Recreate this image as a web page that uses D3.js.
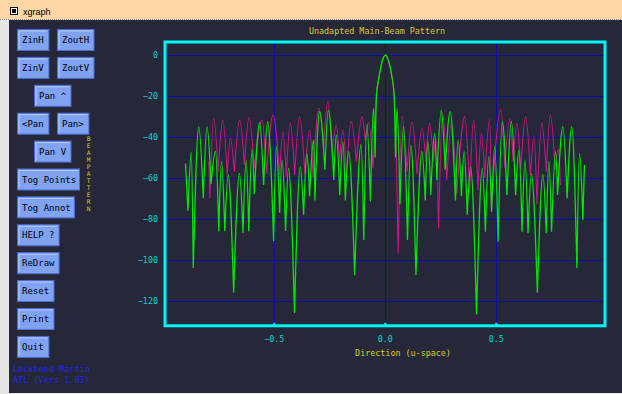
<!DOCTYPE html>
<html>
<head>
<meta charset="utf-8">
<script src="https://cdn.jsdelivr.net/npm/d3@7"></script>
<style>
  html, body { margin: 0; padding: 0; background: #fff; }
  svg { display: block; }
</style>
</head>
<body>
<svg id="chart" width="622" height="394"></svg>
<script>
// ---- data ----
const windowTitle = "xgraph";
const chartTitle = "Unadapted Main-Beam Pattern";
const xLabel = "Direction (u-space)";
const xTicks = [-0.5, 0.0, 0.5];
const yTicks = [0, -20, -40, -60, -80, -100, -120];
const buttonRows = [
  ["ZinH", "ZoutH"], ["ZinV", "ZoutV"], ["Pan ^"], ["<Pan", "Pan>"], ["Pan V"],
  ["Tog Points"], ["Tog Annot"], ["HELP ?"], ["ReDraw"], ["Reset"], ["Print"], ["Quit"]
];
const credits = ["Lockheed-Martin", "ATL (Vers 1.03)"];
const sideLabel = "BEAMPATTERN";

// main beam, shared by both traces  [u, dB]
const mainBeam = [
  [-0.040, -20], [-0.027, -10], [-0.014, -3], [0.001, 0],
  [0.015, -3], [0.029, -10], [0.040, -20]
];

// green trace sidelobes (peaks / nulls)  [u, dB]
const greenLeft = [
  [-0.900, -53], [-0.889, -76], [-0.874, -47.5], [-0.865, -104], [-0.840, -35],
  [-0.820, -70], [-0.803, -35], [-0.785, -63], [-0.765, -47], [-0.750, -86],
  [-0.738, -52], [-0.723, -86], [-0.708, -58.6], [-0.683, -116], [-0.657, -57.8],
  [-0.641, -87], [-0.627, -51.3], [-0.615, -86], [-0.600, -46], [-0.590, -68],
  [-0.566, -33], [-0.548, -63.5], [-0.530, -32.6], [-0.503, -91], [-0.491, -44.8],
  [-0.476, -77], [-0.465, -51.3], [-0.449, -86], [-0.436, -55.4], [-0.409, -126],
  [-0.383, -54.6], [-0.368, -78], [-0.353, -48], [-0.341, -69], [-0.323, -41.5],
  [-0.317, -71], [-0.296, -27.7], [-0.272, -56], [-0.257, -26.9], [-0.232, -61],
  [-0.221, -39], [-0.205, -68.4], [-0.191, -42.3], [-0.180, -71], [-0.165, -47.2],
  [-0.138, -107.5], [-0.109, -43.6], [-0.097, -90.4], [-0.083, -34], [-0.067, -71.6],
  [-0.053, -26], [-0.046, -50]
];
const greenRight = [
  [0.046, -50], [0.053, -26], [0.066, -73], [0.082, -35], [0.100, -90.4],
  [0.115, -44], [0.138, -107.5], [0.165, -47.2], [0.180, -71], [0.192, -42.3],
  [0.205, -68.4], [0.222, -38.3], [0.232, -61], [0.252, -26.9], [0.270, -56],
  [0.292, -27.7], [0.316, -71], [0.328, -41.5], [0.343, -69], [0.355, -47.2],
  [0.369, -78], [0.384, -54.6], [0.411, -126.7], [0.437, -55.4], [0.451, -86.3],
  [0.466, -49.7], [0.479, -76.5], [0.493, -44.8], [0.508, -91.2], [0.527, -32.6],
  [0.548, -68.4], [0.568, -32.6], [0.587, -68.4], [0.602, -46.4], [0.616, -86.3],
  [0.629, -51.3], [0.643, -87], [0.658, -58.1], [0.685, -116], [0.710, -58.3],
  [0.725, -87], [0.737, -52], [0.749, -86.3], [0.767, -47.2], [0.776, -68.4],
  [0.800, -35], [0.819, -70], [0.840, -35], [0.863, -104], [0.875, -48],
  [0.890, -80.6], [0.897, -53.7]
];

// magenta trace sidelobes  [u, dB]
const magentaLeft = [
  [-0.795, -52], [-0.790, -70], [-0.773, -31], [-0.753, -57], [-0.732, -31.8],
  [-0.712, -58.6], [-0.698, -40.7], [-0.680, -57], [-0.656, -31.8], [-0.635, -53.7],
  [-0.614, -30.6], [-0.590, -55.4], [-0.555, -31.8], [-0.535, -58], [-0.506, -29.3],
  [-0.476, -58.6], [-0.461, -37.5], [-0.446, -59.4], [-0.428, -33.4], [-0.408, -58.6],
  [-0.386, -30.1], [-0.362, -58], [-0.341, -36.6], [-0.325, -60], [-0.299, -26],
  [-0.278, -45], [-0.259, -22.8], [-0.240, -48], [-0.221, -34.2], [-0.206, -52],
  [-0.191, -36.6], [-0.175, -58.6], [-0.154, -32.2], [-0.130, -52], [-0.105, -30.1],
  [-0.090, -42], [-0.075, -32.9], [-0.055, -55.4], [-0.047, -35]
];
const magentaRight = [
  [0.047, -35], [0.058, -97], [0.075, -30], [0.098, -57], [0.120, -32.6],
  [0.143, -58], [0.165, -35.8], [0.183, -52], [0.199, -33.4], [0.217, -52],
  [0.228, -40], [0.240, -84.7], [0.258, -28], [0.277, -61], [0.298, -33],
  [0.322, -68], [0.358, -30.1], [0.380, -68], [0.398, -31.8], [0.418, -66],
  [0.433, -38.3], [0.448, -60], [0.470, -31.4], [0.478, -76.5], [0.493, -50],
  [0.520, -26.5], [0.538, -55], [0.560, -31.4], [0.576, -52], [0.593, -33.4],
  [0.610, -56], [0.632, -30.1], [0.654, -58.6], [0.670, -39.9], [0.683, -73],
  [0.705, -33.4], [0.725, -57], [0.744, -29.3], [0.765, -56], [0.780, -46],
  [0.789, -63.5]
];

const magenta = magentaLeft.concat(mainBeam, magentaRight);
const green = greenLeft.concat(mainBeam, greenRight);

// ---- drawing ----
const W = 622, H = 394;
const svg = d3.select('#chart');
const mono = "'DejaVu Sans Mono', 'Liberation Mono', monospace";

// window frame
svg.append('rect').attr('width', W).attr('height', H).attr('fill', '#e6e6e6');
svg.append('rect').attr('x', 9).attr('y', 20).attr('width', W - 9).attr('height', H - 21)
  .attr('fill', '#262839');
svg.append('rect').attr('width', W).attr('height', 19).attr('fill', '#ffd6a4');
svg.append('line').attr('x1', 0).attr('x2', W).attr('y1', 19.5).attr('y2', 19.5)
  .attr('stroke', '#9a9080').attr('stroke-dasharray', '1,1');
svg.append('rect').attr('x', 10.5).attr('y', 7.5).attr('width', 7).attr('height', 7)
  .attr('fill', '#fff').attr('stroke', '#000');
svg.append('rect').attr('x', 12).attr('y', 9).attr('width', 4).attr('height', 4).attr('fill', '#000');
svg.append('text').attr('x', 23).attr('y', 15).attr('font-family', "'Liberation Sans', Arial, sans-serif")
  .attr('font-size', '9px').attr('fill', '#000').text(windowTitle);

// buttons
const btnG = svg.append('g').attr('class', 'buttons');
buttonRows.forEach((row, i) => {
  const y = 29 + i * 27.9;
  const centered = row.length === 1 && row[0].startsWith('Pan');
  let x = centered ? 34 : 17;
  row.forEach((label) => {
    const w = label.length * 5.1 + 11;
    const b = btnG.append('g').attr('transform', `translate(${x},${y})`);
    b.append('rect').attr('x', 0.5).attr('y', 0.5).attr('width', w).attr('height', 21)
      .attr('fill', '#7fa2f2').attr('stroke', '#4d6cd4');
    b.append('path').attr('d', `M2,${20} V2 H${w - 1}`)
      .attr('fill', 'none').attr('stroke', '#b4cbff');
    b.append('text').attr('x', 5).attr('y', 14.2)
      .attr('font-family', mono).attr('font-size', '9px').attr('fill', '#000')
      .text(label);
    x = 57;
  });
});

// credits
credits.forEach((c, i) => {
  svg.append('text').attr('x', 13).attr('y', 371.5 + i * 11.5)
    .attr('font-family', mono).attr('font-size', '8.5px').attr('fill', '#2424e6').text(c);
});

// stacked side label, one vertical text
svg.append('text').attr('x', 88.5).attr('y', 135)
  .attr('font-family', mono).attr('font-size', '6.2px').attr('fill', '#d8cc2a')
  .style('writing-mode', 'vertical-rl').style('text-orientation', 'upright')
  .text(sideLabel);

// plot area
const frame = { left: 165, top: 42, right: 605, bottom: 325.8 };
const x = d3.scaleLinear().domain([-0.5, 0.5]).range([274.3, 496.3]);
const y = d3.scaleLinear().domain([0, -120]).range([55, 300.7]);

svg.append('clipPath').attr('id', 'plotClip').append('rect')
  .attr('x', frame.left + 1.5).attr('y', frame.top + 1.5)
  .attr('width', frame.right - frame.left - 3).attr('height', frame.bottom - frame.top - 3);

const grid = svg.append('g').attr('class', 'grid').attr('stroke', '#0c0caa').attr('stroke-width', 1);
grid.selectAll('line.h').data(yTicks).enter().append('line')
  .attr('x1', frame.left).attr('x2', frame.right)
  .attr('y1', (d) => Math.round(y(d)) + 0.5).attr('y2', (d) => Math.round(y(d)) + 0.5);
grid.selectAll('line.v').data(xTicks).enter().append('line')
  .attr('y1', frame.top).attr('y2', frame.bottom)
  .attr('x1', (d) => Math.round(x(d)) + 0.5).attr('x2', (d) => Math.round(x(d)) + 0.5);

const line = d3.line()
  .x((d) => x(d[0]))
  .y((d) => y(d[1]))
  .curve(d3.curveMonotoneX);

// draw each lobe on its own (null to null) so the nulls come out as sharp cusps
function lobePath(data) {
  const cuts = [0];
  for (let i = 1; i < data.length - 1; i++) {
    if (data[i][1] < data[i - 1][1] && data[i][1] < data[i + 1][1]) cuts.push(i);
  }
  cuts.push(data.length - 1);
  let d = '';
  for (let k = 0; k < cuts.length - 1; k++) {
    d += line(data.slice(cuts[k], cuts[k + 1] + 1));
  }
  return d;
}

const plotG = svg.append('g').attr('clip-path', 'url(#plotClip)');
plotG.append('path').attr('d', lobePath(magenta))
  .attr('fill', 'none').attr('stroke', '#cc1488').attr('stroke-width', 1.1);
plotG.append('path').attr('d', lobePath(green))
  .attr('fill', 'none').attr('stroke', '#00e800').attr('stroke-width', 1.3);

// frame
svg.append('rect').attr('x', frame.left).attr('y', frame.top)
  .attr('width', frame.right - frame.left).attr('height', frame.bottom - frame.top)
  .attr('fill', 'none').attr('stroke', '#00f4f4').attr('stroke-width', 3);

// x tick marks on the frame
svg.selectAll('line.xtick').data(xTicks).enter().append('line')
  .attr('x1', (d) => x(d)).attr('x2', (d) => x(d))
  .attr('y1', frame.bottom - 3).attr('y2', frame.bottom)
  .attr('stroke', '#00f4f4').attr('stroke-width', 2);

// axis labels
const axisFont = { family: mono, size: '8.4px' };
svg.selectAll('text.ylab').data(yTicks).enter().append('text')
  .attr('x', 158).attr('y', (d) => y(d) + 3)
  .attr('text-anchor', 'end').attr('font-family', axisFont.family).attr('font-size', axisFont.size)
  .attr('fill', '#00d6d6').text((d) => d3.format('d')(d));
svg.selectAll('text.xlab').data(xTicks).enter().append('text')
  .attr('x', (d) => x(d)).attr('y', 342.3)
  .attr('text-anchor', 'middle').attr('font-family', axisFont.family).attr('font-size', axisFont.size)
  .attr('fill', '#00d6d6').text((d) => d3.format('.1f')(d));

svg.append('text').attr('x', 377).attr('y', 34)
  .attr('text-anchor', 'middle').attr('font-family', axisFont.family).attr('font-size', axisFont.size)
  .attr('fill', '#d8cc2a').text(chartTitle);
svg.append('text').attr('x', 403).attr('y', 355.5)
  .attr('text-anchor', 'middle').attr('font-family', axisFont.family).attr('font-size', axisFont.size)
  .attr('fill', '#d8cc2a').text(xLabel);
</script>
</body>
</html>
